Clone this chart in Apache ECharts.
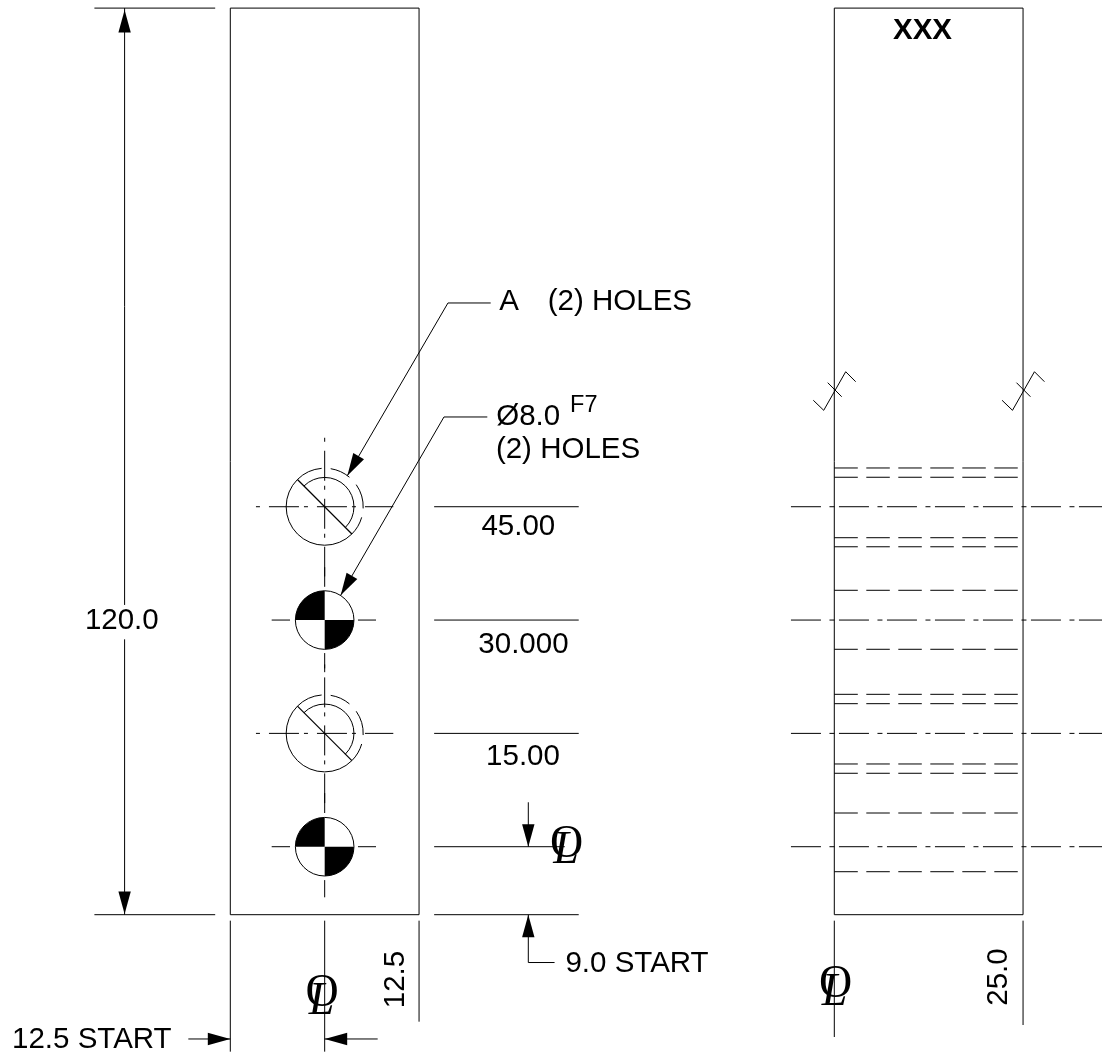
<!DOCTYPE html>
<html><head><meta charset="utf-8">
<style>html,body{margin:0;padding:0;background:#fff}#c{width:1102px;height:1053px}</style>
<script src="https://cdn.jsdelivr.net/npm/echarts@6/dist/echarts.min.js"></script>
</head><body><div id="c"></div>
<script>
// All geometry in drawing millimetres: x from the plate's left edge, y from its bottom edge.
const plateOutlines = [
  [0,0,25,0],[25,0,25,120],[25,120,0,120],[0,120,0,0],
  [80,0,105,0],[105,0,105,120],[105,120,80,120],[80,120,80,0]
];
const dimensionLines = [
  [-18,120,-2,120],[-18,0,-2,0],[-14,120,-14,41],[-14,36.45,-14,0],
  [27,54,46.15,54],[27,39,46.15,39],[27,24,46.15,24],[27,9,44.3,9],[27,0,46.15,0],
  [39.47,14.88,39.47,9],[39.47,0,39.47,-6.33],[39.47,-6.33,42.95,-6.33],
  [0,-0.79,0,-18.13],[12.5,-0.79,12.5,-18.13],[25,-0.79,25,-14.16],
  [80,-0.79,80,-16.19],[105,-0.79,105,-14.6],
  [-5.56,-16.45,0,-16.45],[12.5,-16.45,19.52,-16.45]
];
const leaderLines = [
  [34.49,80.97,28.83,80.97],[28.83,80.97,15.5,58.11],
  [34.04,65.88,28.3,65.88],[28.3,65.88,14.62,42.28]
];
const weldSymbols = [
  [77.22,68.09,78.6,66.76],[78.6,66.76,81.51,71.87],[81.51,71.87,82.83,70.55],[79.13,70.42,80.98,68.56],
  [102.22,68.09,103.6,66.76],[103.6,66.76,106.51,71.87],[106.51,71.87,107.83,70.55],[104.13,70.42,105.98,68.56]
];
const holeSlashes = [
  [8.894,57.606,16.106,50.394],[8.894,27.606,16.106,20.394]
];
const solidHoleCross = [
  [5.48,39,7.91,39],[16.91,39,19.3,39],[12.5,46,12.5,43.4],[12.5,34.63,12.5,32.1],
  [5.48,9,7.91,9],[16.91,9,19.3,9],[12.5,16.1,12.5,13.46],[12.5,4.58,12.5,2.3]
];
const holeCentreLines = [
  [3.4,54,21.59,54],[12.5,63.13,12.5,44.77],
  [3.4,24,21.59,24],[12.5,33.13,12.5,14.77]
];
const sideCentreLines = [
  [74.26,54,115.46,54],[74.26,39,115.46,39],[74.26,24,115.46,24],[74.26,9,115.46,9]
];
const hiddenLevels = [59.13,57.9,49.9,48.7,42.94,35.13,29.17,27.93,19.95,18.72,13.46,5.69];
const hiddenLines = hiddenLevels.map(y => [80,y,104.3,y]);

// arrow: tip x, tip y, tail x, tail y
const arrows = [
  [-14,119.75,-14,0],[-14,0.1,-14,120],
  [15.5,58.11,28.83,80.97],[14.62,42.28,28.3,65.88],
  [39.47,9,39.47,14.88],[39.47,0,39.47,-6.33],
  [0,-16.45,-5.56,-16.45],[12.5,-16.45,19.52,-16.45]
];
const tappedHoles = [[12.5,54],[12.5,24]];
const reamedHoles = [[12.5,39],[12.5,9]];
const tappedOuterR = 5.1, holeR = 3.88;
const deg = Math.PI/180;
// hole x, hole y, radius, from angle, to angle (degrees, counter-clockwise from +x, swept clockwise)
const arcs = [];
tappedHoles.forEach(h => {
  arcs.push([h[0],h[1],tappedOuterR,315,135]);
  arcs.push([h[0],h[1],holeR,135,-45]);
  arcs.push([h[0],h[1],tappedOuterR,135,94.5]);
  arcs.push([h[0],h[1],tappedOuterR,81,50]);
  arcs.push([h[0],h[1],tappedOuterR,35,-2.5]);
  arcs.push([h[0],h[1],tappedOuterR,-16,-45]);
});
reamedHoles.forEach(h => arcs.push([h[0],h[1],holeR,360,0]));
const quadrants = [];
reamedHoles.forEach(h => { quadrants.push([h[0],h[1],holeR,180,90]); quadrants.push([h[0],h[1],holeR,0,-90]); });

const labelTexts = ['45.00','30.000','15.00','120.0','A','(2) HOLES','Ø8.0','(2) HOLES','9.0 START','12.5 START'];
const labelPositions = [[38.15,51.29],[38.83,35.76],[38.77,20.94],[-14.37,38.9],[36.92,81.16],[51.6,81.16],[39.46,65.93],[44.73,61.57],[53.87,-6.53],[-18.34,-16.52]];
const superTexts = ['F7'];
const superPositions = [[46.82,67.4]];
const titleTexts = ['XXX'];
const titlePositions = [[91.68,117.0]];
const sideTexts = ['12.5','25.0'];
const sidePositions = [[21.87,-8.58],[101.74,-8.25]];
const clCircleTexts = ['O','O','O'];
const clCirclePositions = [[44.54,9.3],[12.15,-10.44],[80.16,-9.31]];
const clLetterTexts = ['L','L','L'];
const clLetterPositions = [[44.46,8.45],[12.08,-11.55],[80.03,-10.36]];

function segs(data, dash, width){
  return {type:'custom', silent:true, animation:false, data:data, encode:{x:[0,2],y:[1,3]},
    renderItem:function(p,api){
      const a=api.coord([api.value(0),api.value(1)]), b=api.coord([api.value(2),api.value(3)]);
      return {type:'line',shape:{x1:a[0],y1:a[1],x2:b[0],y2:b[1]},
        style:{stroke:'#000',lineWidth:width||1,lineDash:dash||null,fill:null}};
    }};
}
function arcSeries(data){
  return {type:'custom', silent:true, animation:false, data:data, encode:{x:0,y:1},
    renderItem:function(p,api){
      const c=api.coord([api.value(0),api.value(1)]), r=api.size([api.value(2),0])[0];
      return {type:'arc',shape:{cx:c[0],cy:c[1],r:r,startAngle:-api.value(3)*deg,endAngle:-api.value(4)*deg,clockwise:true},
        style:{stroke:'#000',lineWidth:1,fill:null}};
    }};
}
function quadSeries(data){
  return {type:'custom', silent:true, animation:false, data:data, encode:{x:0,y:1},
    renderItem:function(p,api){
      const c=api.coord([api.value(0),api.value(1)]), r=api.size([api.value(2),0])[0];
      return {type:'sector',shape:{cx:c[0],cy:c[1],r0:0,r:r,startAngle:-api.value(3)*deg,endAngle:-api.value(4)*deg,clockwise:true},
        style:{fill:'#000'}};
    }};
}
function arrowSeries(data){
  return {type:'custom', silent:true, animation:false, data:data, encode:{x:[0,2],y:[1,3]},
    renderItem:function(p,api){
      const t=api.coord([api.value(0),api.value(1)]), f=api.coord([api.value(2),api.value(3)]);
      const dx=f[0]-t[0], dy=f[1]-t[1], n=Math.hypot(dx,dy), ux=dx/n, uy=dy/n, L=22.5, W=6.2;
      return {type:'polygon',shape:{points:[t,[t[0]+ux*L-uy*W,t[1]+uy*L+ux*W],[t[0]+ux*L+uy*W,t[1]+uy*L-ux*W]]},
        style:{fill:'#000'}};
    }};
}
function textSeries(texts, positions, font, rotation){
  return {type:'custom', silent:true, animation:false, data:positions, encode:{x:0,y:1},
    renderItem:function(p,api){
      const c=api.coord([api.value(0),api.value(1)]);
      return {type:'text',x:c[0],y:c[1],rotation:rotation||0,
        style:{text:texts[p.dataIndex],x:0,y:0,fill:'#000',font:font,textAlign:'center',textVerticalAlign:'middle'}};
    }};
}
const sans='"Liberation Sans", Arial, sans-serif', serif='"Liberation Serif", "Times New Roman", serif';
const chart=echarts.init(document.getElementById('c'),null,{renderer:'canvas'});
chart.setOption({
  backgroundColor:'#fff', animation:false, tooltip:{show:false},
  grid:{left:0,right:0,top:0,bottom:0,containLabel:false},
  xAxis:{type:'value',min:-30.503,max:115.457,show:false},
  yAxis:{type:'value',min:-18.306,max:121.072,show:false},
  series:[
    segs(plateOutlines), segs(dimensionLines), segs(leaderLines), segs(weldSymbols),
    segs(holeSlashes,null,1.2), segs(solidHoleCross),
    segs(holeCentreLines,[4,9,30,5]),
    segs(sideCentreLines,[30,8.5,5,4.5]),
    segs(hiddenLines,[23.5,8.5]),
    quadSeries(quadrants), arcSeries(arcs), arrowSeries(arrows),
    textSeries(labelTexts,labelPositions,'29.5px '+sans),
    textSeries(superTexts,superPositions,'23.5px '+sans),
    textSeries(titleTexts,titlePositions,'bold 29.5px '+sans),
    textSeries(sideTexts,sidePositions,'29.5px '+sans,Math.PI/2),
    textSeries(clCircleTexts,clCirclePositions,'46px '+serif),
    textSeries(clLetterTexts,clLetterPositions,'italic 46px '+serif)
  ]
});
</script></body></html>
